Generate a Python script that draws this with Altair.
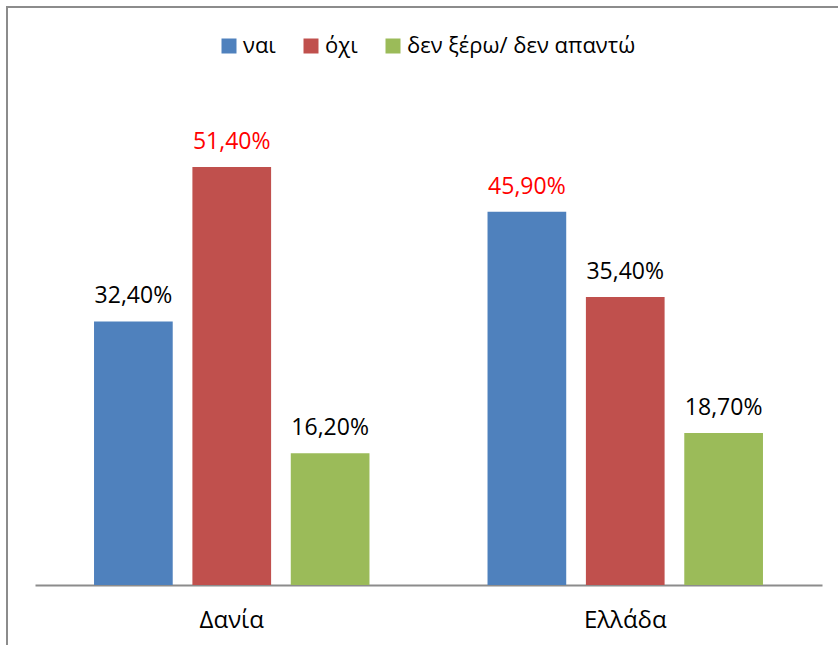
import altair as alt
import pandas as pd

# Survey answers per country (percent)
countries = ["Δανία", "Ελλάδα"]
answers = ["ναι", "όχι", "δεν ξέρω/ δεν απαντώ"]
yes_pct = [32.4, 45.9]
no_pct = [51.4, 35.4]
dont_know_pct = [16.2, 18.7]

colors = ["#4F81BD", "#C0504D", "#9BBB59"]
FONT = "Open Sans"

rows = []
for i, c in enumerate(countries):
    for a, series in zip(answers, [yes_pct, no_pct, dont_know_pct]):
        rows.append({"country": c, "answer": a, "value": series[i]})
df = pd.DataFrame(rows)

base = alt.Chart(df).encode(
    x=alt.X(
        "country:N",
        sort=countries,
        scale=alt.Scale(paddingInner=0.3, paddingOuter=0.15),
        axis=alt.Axis(
            title=None,
            labelAngle=0,
            ticks=False,
            tickSize=0,
            labelFontSize=24,
            labelFont=FONT,
            labelColor="#000000",
            labelBaseline="alphabetic",
            labelPadding=42,
            domainColor="#8c8c8c",
            domainWidth=2,
            grid=False,
        ),
    ),
    xOffset=alt.XOffset(
        "answer:N", sort=answers, scale=alt.Scale(paddingInner=0.2, paddingOuter=0)
    ),
    y=alt.Y("value:Q", scale=alt.Scale(domain=[0, 60]), axis=None),
)

bars = base.mark_bar().encode(
    color=alt.Color(
        "answer:N",
        sort=answers,
        scale=alt.Scale(domain=answers, range=colors),
        legend=alt.Legend(
            title=None,
            orient="none",
            legendX=183,
            legendY=-62,
            direction="horizontal",
            symbolType="square",
            symbolSize=225,
            symbolStrokeWidth=0,
            labelFontSize=22,
            labelFont=FONT,
            labelColor="#000000",
            labelOffset=3,
            labelLimit=0,
            columnPadding=24,
            padding=0,
        ),
    )
)

labels = (
    base.transform_joinaggregate(groupmax="max(value)", groupby=["country"])
    .transform_calculate(
        label="replace(format(datum.value, '.2f'), '.', ',') + '%'"
    )
    .mark_text(baseline="alphabetic", dy=-18, fontSize=23, font=FONT)
    .encode(
        text="label:N",
        color=alt.condition(
            "datum.value == datum.groupmax", alt.value("#FF0000"), alt.value("#000000")
        ),
    )
)

# Frame lines around the chart
frame_src = alt.Chart(pd.DataFrame({"k": [0]}))
frame_top = frame_src.mark_rule(color="#8c8c8c", strokeWidth=2).encode(
    x=alt.value(-29), x2=alt.value(900), y=alt.value(-90)
)
frame_left = frame_src.mark_rule(color="#8c8c8c", strokeWidth=2).encode(
    x=alt.value(-28), y=alt.value(-91), y2=alt.value(700)
)

chart = (
    alt.layer(bars, labels, frame_top, frame_left)
    .properties(
        width=787,
        height=488,
        autosize=alt.AutoSizeParams(type="none"),
        padding={"left": 35, "top": 97, "right": 16, "bottom": 60},
        background="#ffffff",
    )
    .configure_view(stroke=None)
)

chart.save("out.html", embed_options={"renderer": "svg", "actions": False})
